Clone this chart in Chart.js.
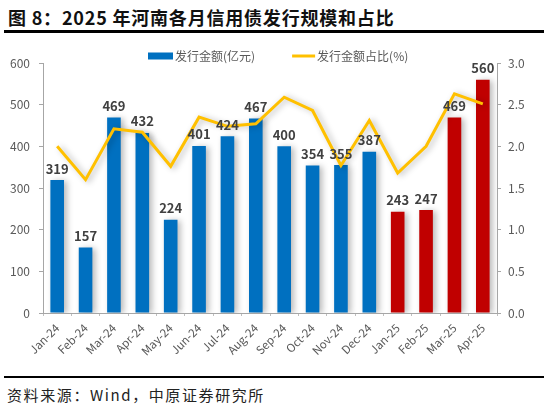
<!DOCTYPE html>
<html>
<head>
<meta charset="utf-8">
<script src="https://cdn.jsdelivr.net/npm/chart.js@4/dist/chart.umd.min.js"></script>
<style>
  html, body { margin: 0; padding: 0; background: #fff; }
  body { width: 548px; height: 409px; position: relative; overflow: hidden; }
  #title {
    position: absolute; left: 8px; top: 4px;
    font: bold 18px "Noto Sans CJK SC", sans-serif; color: #111;
    letter-spacing: 0.8px; white-space: pre;
  }
  .rule { position: absolute; left: 4px; width: 540px; background: #000; }
  #source {
    position: absolute; left: 7px; top: 384px;
    font: 15px "Noto Sans CJK SC", sans-serif; color: #222;
    letter-spacing: 1.6px; white-space: nowrap;
  }
  #wrap { position: absolute; left: 0; top: 36px; width: 548px; height: 337px; }
</style>
</head>
<body>
<div id="title">图 8：2025 年河南各月信用债发行规模和占比</div>
<div class="rule" style="top:30px;height:3px"></div>
<div id="wrap"><canvas id="chart"></canvas></div>
<div class="rule" style="top:376px;height:2px"></div>
<div id="source">资料来源：Wind，中原证券研究所</div>

<script>
// 月份
const months = ['Jan-24', 'Feb-24', 'Mar-24', 'Apr-24', 'May-24', 'Jun-24', 'Jul-24', 'Aug-24',
  'Sep-24', 'Oct-24', 'Nov-24', 'Dec-24', 'Jan-25', 'Feb-25', 'Mar-25', 'Apr-25'];

// 发行金额(亿元)
const amount = [319, 157, 469, 432, 224, 401, 424, 467, 400, 354, 355, 387, 243, 247, 469, 560];

// 发行金额占比(%)
const share = [2.00, 1.60, 2.21, 2.17, 1.76, 2.35, 2.24, 2.27, 2.59, 2.43, 1.77, 2.31, 1.68, 2.00, 2.63, 2.51];

const BLUE = '#0070C0';
const RED = '#C00000';
const GOLD = '#FFC000';
const GRAY = '#595959';
const FONT = '"Noto Sans CJK SC", sans-serif';

// 2025 年的柱子用红色
const barColors = months.map(m => m.endsWith('-25') ? RED : BLUE);

// 柱子和折线的阴影
const shadow = {
  id: 'shadow',
  beforeDatasetDraw(chart) {
    const ctx = chart.ctx;
    ctx.save();
    ctx.shadowColor = 'rgba(0,0,0,0.28)';
    ctx.shadowBlur = 6;
    ctx.shadowOffsetX = 3;
    ctx.shadowOffsetY = 1;
  },
  afterDatasetDraw(chart) {
    chart.ctx.restore();
  }
};

// 柱顶数字
const barLabels = {
  id: 'barLabels',
  afterDatasetsDraw(chart) {
    const ctx = chart.ctx;
    const meta = chart.getDatasetMeta(0);
    ctx.save();
    ctx.font = 'bold 13px ' + FONT;
    ctx.fillStyle = '#404040';
    ctx.textAlign = 'center';
    ctx.textBaseline = 'bottom';
    meta.data.forEach((bar, i) => {
      ctx.fillText(chart.data.datasets[0].data[i], bar.x, bar.y - 5);
    });
    ctx.restore();
  }
};

// 图例（自己画，间距跟原图一样）
const legend = {
  id: 'legendBox',
  afterDraw(chart) {
    const ctx = chart.ctx;
    const ds = chart.data.datasets;
    const y = 20;
    let x = 148;
    ctx.save();
    ctx.font = '12px ' + FONT;
    ctx.textBaseline = 'middle';
    ctx.fillStyle = BLUE;
    ctx.fillRect(x, y - 3.5, 25, 7);
    x += 27;
    ctx.fillStyle = GRAY;
    ctx.fillText(ds[0].label, x, y);
    x += ctx.measureText(ds[0].label).width + 37;
    ctx.strokeStyle = GOLD;
    ctx.lineWidth = 3;
    ctx.beginPath();
    ctx.moveTo(x, y);
    ctx.lineTo(x + 23, y);
    ctx.stroke();
    x += 25;
    ctx.fillText(ds[1].label, x, y);
    ctx.restore();
  }
};

const ctx = document.getElementById('chart').getContext('2d');
new Chart(ctx, {
  data: {
    labels: months,
    datasets: [
      {
        type: 'bar',
        label: '发行金额(亿元)',
        data: amount,
        backgroundColor: barColors,
        barPercentage: 0.48,
        categoryPercentage: 1,
        yAxisID: 'y',
        order: 1
      },
      {
        type: 'line',
        label: '发行金额占比(%)',
        data: share,
        borderColor: GOLD,
        borderWidth: 3,
        pointRadius: 0,
        tension: 0,
        yAxisID: 'y1',
        order: 0
      }
    ]
  },
  options: {
    responsive: true,
    maintainAspectRatio: false,
    animation: false,
    layout: { padding: { top: 27, left: 0, right: 0, bottom: 0 } },
    plugins: {
      legend: { display: false },
      tooltip: { enabled: false }
    },
    scales: {
      x: {
        grid: { display: true, drawOnChartArea: false, tickLength: 3, color: '#BFBFBF' },
        border: { color: '#A6A6A6' },
        ticks: {
          color: GRAY, font: { family: FONT, size: 11.5 },
          maxRotation: 45, minRotation: 45, autoSkip: false, padding: 5
        },
        afterFit(scale) { scale.height = 60; }
      },
      y: {
        position: 'left',
        min: 0, max: 600,
        grid: { display: true, drawOnChartArea: false, tickLength: 4, color: '#A6A6A6' },
        border: { color: '#A6A6A6' },
        ticks: { stepSize: 100, color: GRAY, font: { family: FONT, size: 12 }, padding: 9 },
        afterFit(scale) { scale.width = 43; }
      },
      y1: {
        position: 'right',
        min: 0, max: 3,
        grid: { display: true, drawOnChartArea: false, tickLength: 4, color: '#A6A6A6' },
        border: { color: '#A6A6A6' },
        ticks: {
          stepSize: 0.5, color: GRAY, font: { family: FONT, size: 12 }, padding: 7,
          callback: v => v.toFixed(1)
        },
        afterFit(scale) { scale.width = 51; }
      }
    }
  },
  plugins: [shadow, barLabels, legend]
});
</script>
</body>
</html>
